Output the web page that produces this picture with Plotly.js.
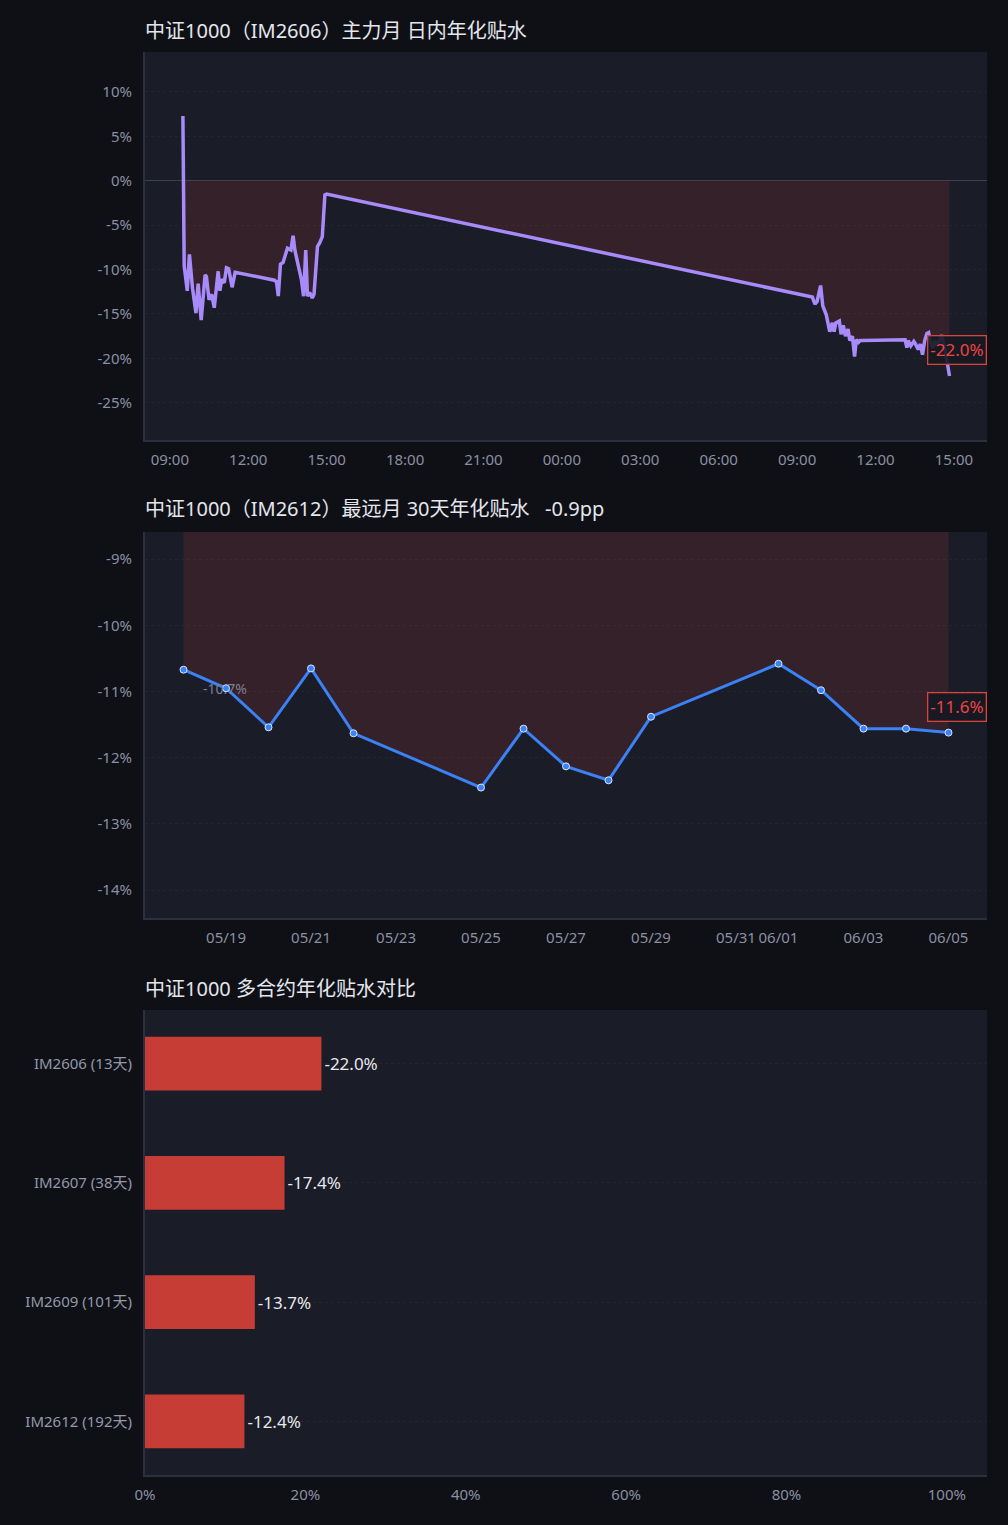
<!DOCTYPE html>
<html>
<head>
<meta charset="utf-8">
<script src="https://cdn.plot.ly/plotly-3.0.1.min.js"></script>
<style>
  html, body { margin: 0; padding: 0; background: #0f1015; }
  #chart { width: 1008px; height: 1525px; }
</style>
</head>
<body>
<div id="chart"></div>
<script>
// 主力月 IM2606 日内年化贴水 (%)
const intradayTimes = [
  '2026-06-04 09:30', '2026-06-04 09:33', '2026-06-04 09:40', '2026-06-04 09:45', '2026-06-04 09:52',
  '2026-06-04 10:00', '2026-06-04 10:05', '2026-06-04 10:12', '2026-06-04 10:21', '2026-06-04 10:24',
  '2026-06-04 10:30', '2026-06-04 10:36', '2026-06-04 10:42', '2026-06-04 10:51', '2026-06-04 10:55',
  '2026-06-04 10:59', '2026-06-04 11:05', '2026-06-04 11:10', '2026-06-04 11:15', '2026-06-04 11:23',
  '2026-06-04 11:30', '2026-06-04 13:00', '2026-06-04 13:05', '2026-06-04 13:09', '2026-06-04 13:14',
  '2026-06-04 13:20', '2026-06-04 13:30', '2026-06-04 13:38', '2026-06-04 13:43', '2026-06-04 13:47',
  '2026-06-04 13:55', '2026-06-04 14:02', '2026-06-04 14:07', '2026-06-04 14:12', '2026-06-04 14:16',
  '2026-06-04 14:21', '2026-06-04 14:27', '2026-06-04 14:31', '2026-06-04 14:39', '2026-06-04 14:44',
  '2026-06-04 14:50', '2026-06-04 14:56', '2026-06-04 15:00',
  '2026-06-05 09:30', '2026-06-05 09:35', '2026-06-05 09:41', '2026-06-05 09:46', '2026-06-05 09:54',
  '2026-06-05 09:59', '2026-06-05 10:07', '2026-06-05 10:11', '2026-06-05 10:15', '2026-06-05 10:21',
  '2026-06-05 10:25', '2026-06-05 10:29', '2026-06-05 10:37', '2026-06-05 10:41', '2026-06-05 10:46',
  '2026-06-05 10:51', '2026-06-05 10:57', '2026-06-05 11:01', '2026-06-05 11:07', '2026-06-05 11:12',
  '2026-06-05 11:16', '2026-06-05 11:21', '2026-06-05 11:25', '2026-06-05 11:30', '2026-06-05 13:00',
  '2026-06-05 13:08', '2026-06-05 13:12', '2026-06-05 13:15', '2026-06-05 13:21', '2026-06-05 13:28',
  '2026-06-05 13:32', '2026-06-05 13:38', '2026-06-05 13:43', '2026-06-05 13:48', '2026-06-05 13:53',
  '2026-06-05 13:58', '2026-06-05 14:02', '2026-06-05 14:06', '2026-06-05 14:12', '2026-06-05 14:17',
  '2026-06-05 14:22', '2026-06-05 14:32', '2026-06-05 14:40', '2026-06-05 14:47', '2026-06-05 14:50'
];
const intradayValues = [
  7.3, -9.6, -12.4, -8.3, -12.1,
  -14.9, -11.6, -15.7, -10.6, -10.8,
  -13.4, -12.8, -14.3, -10.2, -12.4,
  -11.1, -11.5, -9.8, -9.9, -12.0,
  -10.3, -11.2, -11.4, -13.0, -9.4,
  -9.2, -7.6, -7.8, -6.2, -7.8,
  -9.6, -11.1, -13.0, -7.8, -13.0,
  -12.6, -13.2, -12.8, -7.4, -7.0,
  -6.3, -1.6, -1.5,
  -13.0, -13.1, -13.9, -13.6, -11.8,
  -14.1, -15.1, -16.0, -17.0, -16.0,
  -17.0, -16.0, -15.8, -17.3, -16.3,
  -17.5, -16.7, -18.0, -17.5, -19.8,
  -17.9, -18.2, -18.0, -18.0, -17.9,
  -17.9, -18.8, -18.0, -18.6, -18.1,
  -18.4, -19.0, -18.4, -19.6, -18.0,
  -17.2, -17.1, -18.2, -18.8, -18.0,
  -18.6, -17.4, -19.2, -21.2, -22.0
];
const intradayTicks = [-25, -20, -15, -10, -5, 0, 5, 10];

// 最远月 IM2612 30天年化贴水 (%)
const farDates = [
  '2026-05-18', '2026-05-19', '2026-05-20', '2026-05-21', '2026-05-22',
  '2026-05-25', '2026-05-26', '2026-05-27', '2026-05-28', '2026-05-29',
  '2026-06-01', '2026-06-02', '2026-06-03', '2026-06-04', '2026-06-05'
];
const farValues = [
  -10.67, -10.95, -11.54, -10.65, -11.63,
  -12.45, -11.56, -12.13, -12.34, -11.38,
  -10.58, -10.98, -11.56, -11.56, -11.62
];
const farTickDates = [
  '2026-05-19', '2026-05-21', '2026-05-23', '2026-05-25', '2026-05-27',
  '2026-05-29', '2026-05-31', '2026-06-01', '2026-06-03', '2026-06-05'
];
const farTicks = [-14, -13, -12, -11, -10, -9];

// 多合约对比
const contracts = ['IM2606 (13天)', 'IM2607 (38天)', 'IM2609 (101天)', 'IM2612 (192天)'];
const contractDiscounts = [-22.0, -17.4, -13.7, -12.4];

const FONT = '"Noto Sans", "Noto Sans CJK SC", sans-serif';
const TICK = { family: FONT, size: 15, color: '#8a8fa3' };
const GRID = 'rgba(255,255,255,0.045)';
const AXLINE = '#2c2f3d';
const FILL = 'rgba(239,68,68,0.13)';

const last = a => a[a.length - 1];
const pct = v => v + '%';

const traces = [
  {
    x: intradayTimes, y: intradayValues, type: 'scatter', mode: 'lines',
    line: { color: '#a78bfa', width: 3.5 }, fill: 'tozeroy', fillcolor: FILL,
    xaxis: 'x', yaxis: 'y'
  },
  {
    x: farDates, y: farValues, type: 'scatter', mode: 'lines+markers',
    line: { color: '#3b82f6', width: 3 },
    marker: { color: '#3b82f6', size: 7, line: { color: '#dbe6ff', width: 1 } },
    fill: 'tozeroy', fillcolor: FILL,
    xaxis: 'x2', yaxis: 'y2'
  },
  {
    y: contracts, x: contractDiscounts.map(v => Math.abs(v)), type: 'bar', orientation: 'h',
    marker: { color: '#c63d35' }, width: 0.45,
    text: contractDiscounts.map(v => v.toFixed(1) + '%'), textposition: 'outside',
    textfont: { family: FONT, size: 17, color: '#e8e8ee' }, cliponaxis: false,
    xaxis: 'x3', yaxis: 'y3'
  }
];

const boxNote = (yref, val) => ({
  xref: 'paper', x: 1, xanchor: 'right', yref: yref, y: val, yshift: 26,
  text: val.toFixed(1) + '%', showarrow: false,
  font: { family: FONT, size: 17, color: '#ef4444' },
  bgcolor: 'rgba(22,24,34,0.9)', bordercolor: '#d9443a', borderwidth: 1.3, borderpad: 2
});

const titleNote = (y, text) => ({
  xref: 'paper', yref: 'paper', x: 0, xanchor: 'left', y: y, yanchor: 'middle',
  text: text, showarrow: false, xshift: -2,
  font: { family: FONT, size: 20, color: '#e4e6ee' }
});

const layout = {
  width: 1008, height: 1525,
  margin: { l: 145, r: 21, t: 52, b: 50 },
  paper_bgcolor: '#0f1015', plot_bgcolor: '#1a1c27',
  font: { family: FONT, color: '#8a8fa3' },
  showlegend: false,
  xaxis: {
    type: 'date', domain: [0, 1], anchor: 'y',
    range: ['2026-06-04 08:03', '2026-06-05 16:16'],
    tick0: '2026-06-04 00:00', dtick: 3 * 3600 * 1000, tickformat: '%H:%M',
    showgrid: false, showline: true, linecolor: AXLINE, linewidth: 2,
    tickfont: TICK, ticks: '', ticklabelstandoff: 5
  },
  yaxis: {
    domain: [0.72734, 1], anchor: 'x',
    range: [-29.2, 14.5], tickvals: intradayTicks, ticktext: intradayTicks.map(pct),
    showgrid: true, gridcolor: GRID, griddash: 'dot',
    zeroline: true, zerolinecolor: '#3c3f4e', zerolinewidth: 1,
    showline: true, linecolor: AXLINE, linewidth: 2,
    tickfont: TICK, ticks: '', ticklabelstandoff: 8
  },
  xaxis2: {
    type: 'date', domain: [0, 1], anchor: 'y2',
    range: ['2026-05-17 02:15', '2026-06-05 21:45'],
    tickvals: farTickDates, tickformat: '%m/%d',
    showgrid: false, showline: true, linecolor: AXLINE, linewidth: 2,
    tickfont: TICK, ticks: '', ticklabelstandoff: 5
  },
  yaxis2: {
    domain: [0.39143, 0.66269], anchor: 'x2',
    range: [-14.42, -8.59], tickvals: farTicks, ticktext: farTicks.map(pct),
    showgrid: true, gridcolor: GRID, griddash: 'dot', zeroline: false,
    showline: true, linecolor: AXLINE, linewidth: 2,
    tickfont: TICK, ticks: '', ticklabelstandoff: 8
  },
  xaxis3: {
    domain: [0, 1], anchor: 'y3',
    range: [0, 105], dtick: 20, ticksuffix: '%',
    showgrid: false, zeroline: false,
    showline: true, linecolor: AXLINE, linewidth: 2,
    tickfont: TICK, ticks: '', ticklabelstandoff: 5
  },
  yaxis3: {
    domain: [0, 0.32678], anchor: 'x3',
    type: 'category', range: [3.45, -0.45],
    showgrid: true, gridcolor: GRID, griddash: 'dot',
    showline: true, linecolor: AXLINE, linewidth: 2,
    tickfont: { family: FONT, size: 15, color: '#9398aa' }, ticks: '', ticklabelstandoff: 8
  },
  annotations: [
    titleNote(1.01546, '中证1000（IM2606）主力月 日内年化贴水'),
    titleNote(0.67885, '中证1000（IM2612）最远月 30天年化贴水&nbsp;&nbsp;&nbsp;-0.9pp'),
    titleNote(0.34223, '中证1000 多合约年化贴水对比'),
    boxNote('y', last(intradayValues)),
    boxNote('y2', last(farValues)),
    {
      xref: 'x2', yref: 'y2', x: farDates[0], y: farValues[0],
      xshift: 41, yshift: -19, showarrow: false,
      text: farValues[0].toFixed(1) + '%',
      font: { family: FONT, size: 14, color: '#7c8094' }
    }
  ]
};

Plotly.newPlot('chart', traces, layout, { staticPlot: true, displayModeBar: false });
</script>
</body>
</html>
